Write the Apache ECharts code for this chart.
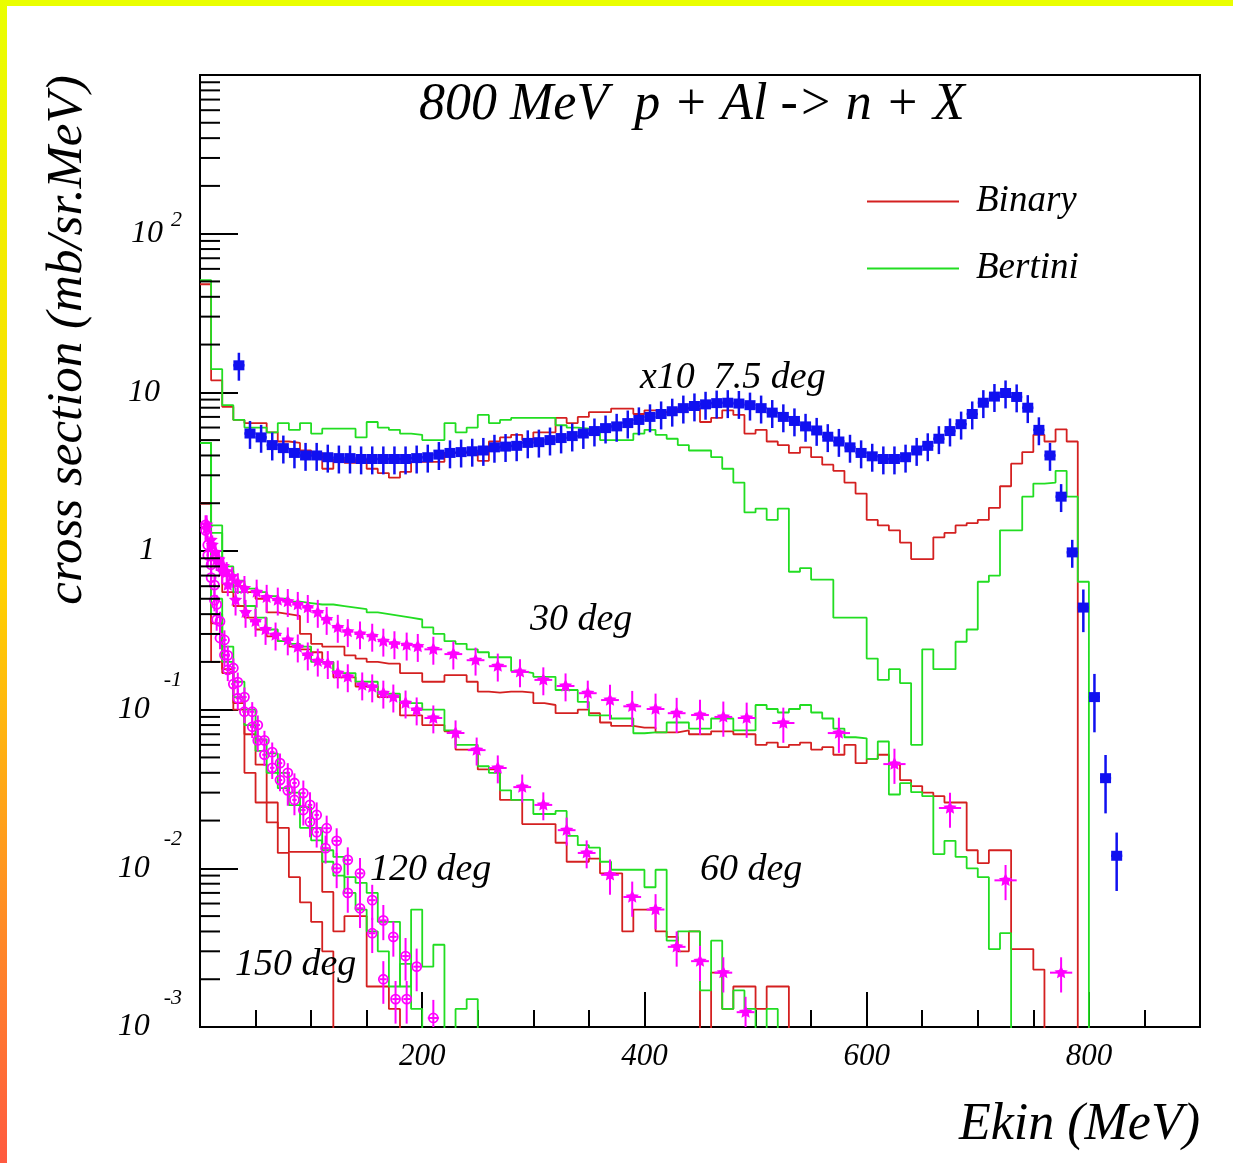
<!DOCTYPE html>
<html>
<head>
<meta charset="utf-8">
<script src="https://cdn.jsdelivr.net/npm/echarts@6/dist/echarts.min.js"></script>
<style>
  html, body { margin: 0; padding: 0; background: #fff; }
  #chart { position: absolute; left: 0; top: 0; width: 1233px; height: 1163px; }
  .edge-top { position: absolute; left: 0; top: 0; width: 1233px; height: 6px; background: #eaff00; }
  .edge-left { position: absolute; left: 0; top: 0; width: 7px; height: 1163px;
    background: linear-gradient(#eaff00, #ffd200 50%, #ff5a40); }
</style>
</head>
<body>
<div id="chart"></div>
<div class="edge-top"></div>
<div class="edge-left"></div>
<script>
// histogram bin width (MeV); every model histogram starts at 0 MeV
const BIN = 10
const FLOOR = 0.0003 // empty bin, below the axis

// Binary / Bertini cascade, 7.5 deg (x10)
const binary75 = [48, 11.9, 8.1, 6.7, 6.4, 6.4, 5.6, 4.9, 4.8, 4.3, 4.15, 3.3, 3.75, 3.6, 3.75, 3.3, 3.1, 2.9, 3.15, 3.65,
  3.65, 3.65, 4.15, 4.15, 4.15, 3.7, 4.9, 5.2, 5.4, 5.0, 5.6, 5.6, 6.9, 6.4, 7.0, 7.5, 7.5, 7.9, 7.9, 7.3,
  7.7, 7.5, 7.5, 7.9, 7.9, 6.5, 6.9, 7.7, 7.2, 5.5, 5.8, 4.9, 4.65, 4.15, 4.5, 3.9, 3.5, 3.2, 2.7, 2.3,
  1.57, 1.45, 1.35, 1.13, 0.89, 0.89, 1.22, 1.3, 1.45, 1.5, 1.57, 1.87, 2.56, 3.55, 4.2, 5.4, 4.9, 5.85, 4.9]
const bertini75 = [51, 14, 8.3, 6.7, 6.0, 6.0, 5.6, 6.4, 5.8, 6.4, 5.5, 5.9, 5.9, 5.9, 5.2, 6.5, 6.0, 5.8, 5.5, 5.4,
  5.0, 5.0, 6.4, 5.6, 6.0, 7.2, 6.4, 6.7, 6.9, 6.9, 6.9, 6.9, 6.2, 6.0, 5.9, 5.8, 5.0, 5.0, 5.0, 5.5,
  5.8, 5.4, 5.1, 4.65, 4.3, 4.3, 3.9, 3.3, 2.7, 1.75, 1.85, 1.57, 1.85, 0.74, 0.78, 0.66, 0.66, 0.38, 0.38, 0.38,
  0.21, 0.154, 0.18, 0.147, 0.06, 0.24, 0.18, 0.18, 0.268, 0.32, 0.64, 0.7, 1.35, 1.35, 2.2, 2.66, 2.7, 3.2, 2.2, 0.64]

// 30 deg
const binary30 = [2.0, 0.9, 0.7, 0.6, 0.55, 0.5, 0.41, 0.4, 0.39, 0.3, 0.26, 0.25, 0.25, 0.22, 0.21, 0.2, 0.195, 0.195, 0.17, 0.17,
  0.15, 0.15, 0.165, 0.165, 0.15, 0.13, 0.128, 0.13, 0.13, 0.128, 0.11, 0.107, 0.095, 0.095, 0.1, 0.095, 0.083, 0.079, 0.079, 0.077,
  0.077, 0.072, 0.072, 0.074, 0.07, 0.07, 0.073, 0.073, 0.07, 0.07, 0.06, 0.062, 0.058, 0.06, 0.062, 0.056, 0.058, 0.052, 0.06, 0.046,
  0.049, 0.052, 0.045, 0.036, 0.033, 0.03, 0.0285, 0.026, 0.026, 0.013, 0.0108, 0.013, 0.013, 0.0031, 0.0031, 0.0023]
const bertini30 = [4.8, 1.45, 0.8, 0.65, 0.58, 0.55, 0.52, 0.5, 0.48, 0.47, 0.46, 0.46, 0.45, 0.44, 0.43, 0.41, 0.4, 0.39, 0.38, 0.37,
  0.33, 0.3, 0.27, 0.26, 0.24, 0.23, 0.214, 0.214, 0.175, 0.17, 0.161, 0.161, 0.133, 0.133, 0.112, 0.092, 0.092, 0.088, 0.088, 0.071,
  0.072, 0.072, 0.083, 0.083, 0.076, 0.076, 0.088, 0.088, 0.074, 0.074, 0.107, 0.101, 0.096, 0.101, 0.107, 0.096, 0.088, 0.076, 0.067, 0.066,
  0.049, 0.063, 0.0292, 0.0344, 0.0302, 0.0285, 0.0123, 0.0149, 0.0118, 0.01, 0.0088, 0.0031, 0.0039]

// 60 deg
const binary60 = [2.0, 0.8, 0.55, 0.45, 0.38, 0.32, 0.29, 0.27, 0.25, 0.24, 0.23, 0.2, 0.16, 0.16, 0.14, 0.14, 0.12, 0.12, 0.092, 0.092,
  0.08, 0.08, 0.073, 0.056, 0.056, 0.042, 0.042, 0.027, 0.027, 0.019, 0.019, 0.019, 0.0145, 0.011, 0.011, 0.0115, 0.0093, 0.0093, 0.004, 0.0055,
  0.0055, 0.004, 0.0037, 0.003, 0.004, 0.0005, 0.0022, 0.0013, 0.0018, 0.0018, 0.0013, 0.0018, 0.0018]
const bertini60 = [4.8, 1.3, 0.75, 0.55, 0.45, 0.38, 0.32, 0.27, 0.26, 0.25, 0.2, 0.2, 0.17, 0.17, 0.15, 0.15, 0.126, 0.126, 0.11, 0.11,
  0.1, 0.1, 0.074, 0.06, 0.06, 0.044, 0.04, 0.031, 0.027, 0.027, 0.022, 0.022, 0.023, 0.016, 0.014, 0.0135, 0.011, 0.0098, 0.0098, 0.0098,
  0.0076, 0.0098, 0.0035, 0.004, 0.004, 0.0017, 0.0035, 0.0013, 0.0017, 0.0013, 0.0005, 0.0013]

// 120 deg
const binary120 = [2.0, 0.35, 0.18, 0.11, 0.07, 0.045, 0.026, 0.018, 0.0127, 0.0127, 0.0127, 0.0071, 0.004, 0.005, 0.005, 0.0018, 0.0018, 0.0013]
const bertini120 = [4.8, 0.5, 0.25, 0.15, 0.1, 0.065, 0.053, 0.04, 0.03, 0.0243, 0.018, 0.013, 0.0118, 0.0088, 0.0081, 0.007, 0.0046, 0.0046, 0.0018, 0.0055,
  0.0024, 0.0033, 0.0005, 0.0013, 0.0015]

// 150 deg
const binary150 = [2.0, 0.2, 0.17, 0.1, 0.04, 0.026, 0.0195, 0.0125, 0.0088, 0.0061, 0.0046, 0.003]
const bertini150 = [4.8, 0.4, 0.2, 0.12, 0.08, 0.055, 0.04, 0.032, 0.025, 0.018, 0.015, 0.011, 0.009, 0.007, 0.0055, 0.004, 0.003, 0.0018, 0.0025, 0.0013]

// measured points, 7.5 deg x10: [E, value, relative error]; half bin 5 MeV
const DATA75_HALF = 5
const data75 = [[35, 14.8, 0.2], [45, 5.5, 0.2], [55, 5.2, 0.2], [65, 4.65, 0.2], [75, 4.45, 0.2], [85, 4.15, 0.2], [95, 4.0, 0.2],
  [105, 4.0, 0.2], [115, 3.9, 0.2], [125, 3.85, 0.2], [135, 3.85, 0.2], [145, 3.8, 0.2], [155, 3.8, 0.2], [165, 3.8, 0.2],
  [175, 3.8, 0.2], [185, 3.8, 0.2], [195, 3.85, 0.2], [205, 3.9, 0.2], [215, 4.05, 0.2], [225, 4.15, 0.2], [235, 4.2, 0.2],
  [245, 4.25, 0.2], [255, 4.3, 0.2], [265, 4.5, 0.2], [275, 4.55, 0.2], [285, 4.6, 0.2], [295, 4.8, 0.2], [305, 4.85, 0.2],
  [315, 5.0, 0.2], [325, 5.15, 0.2], [335, 5.3, 0.2], [345, 5.5, 0.2], [355, 5.7, 0.2], [365, 5.95, 0.2], [375, 6.1, 0.2],
  [385, 6.4, 0.2], [395, 6.7, 0.2], [405, 7.0, 0.2], [415, 7.3, 0.2], [425, 7.6, 0.2], [435, 7.95, 0.2], [445, 8.2, 0.2],
  [455, 8.4, 0.2], [465, 8.55, 0.2], [475, 8.6, 0.2], [485, 8.5, 0.2], [495, 8.3, 0.2], [505, 7.95, 0.2], [515, 7.45, 0.2],
  [525, 7.0, 0.2], [535, 6.6, 0.2], [545, 6.1, 0.2], [555, 5.75, 0.2], [565, 5.25, 0.2], [575, 4.9, 0.2], [585, 4.5, 0.2],
  [595, 4.15, 0.2], [605, 3.95, 0.2], [615, 3.8, 0.2], [625, 3.8, 0.2], [635, 3.9, 0.2], [645, 4.3, 0.2], [655, 4.6, 0.2],
  [665, 5.1, 0.2], [675, 5.7, 0.2], [685, 6.3, 0.2], [695, 7.3, 0.2], [705, 8.6, 0.2], [715, 9.4, 0.2], [725, 9.9, 0.2],
  [735, 9.35, 0.2], [745, 8.0, 0.2], [755, 5.8, 0.2], [765, 4.0, 0.2], [775, 2.2, 0.2], [785, 0.98, 0.2], [795, 0.44, 0.3],
  [805, 0.12, 0.4], [815, 0.037, 0.4], [825, 0.012, 0.4]]

// measured points, other angles: [E, value, half bin width, relative error]
const data30 = [[6, 1.46, 2, 0.15], [10, 1.17, 2, 0.15], [14, 0.98, 2, 0.15], [17, 0.88, 2, 0.15], [21, 0.8, 2, 0.15],
  [24, 0.74, 2, 0.15], [29, 0.69, 2, 0.15], [34, 0.63, 3, 0.15], [40, 0.58, 4, 0.2], [51, 0.55, 5, 0.2], [60, 0.51, 5, 0.2],
  [70, 0.49, 5, 0.2], [79, 0.48, 5, 0.2], [88, 0.46, 5, 0.2], [97, 0.44, 5, 0.2], [106, 0.41, 5, 0.2], [114, 0.37, 5, 0.2],
  [124, 0.33, 5, 0.2], [133, 0.31, 5, 0.2], [144, 0.3, 5, 0.2], [155, 0.29, 5, 0.2], [165, 0.27, 5, 0.2], [175, 0.26, 5, 0.2],
  [186, 0.255, 5, 0.2], [196, 0.25, 5, 0.2], [210, 0.24, 8, 0.2], [228, 0.224, 8, 0.2], [248, 0.205, 8, 0.2], [268, 0.188, 8, 0.2],
  [288, 0.173, 8, 0.2], [309, 0.154, 8, 0.2], [329, 0.141, 8, 0.2], [349, 0.127, 8, 0.2], [369, 0.115, 8, 0.25],
  [389, 0.105, 8, 0.25], [410, 0.101, 8, 0.25], [429, 0.095, 8, 0.25], [450, 0.0925, 8, 0.25], [471, 0.09, 8, 0.25],
  [492, 0.0886, 8, 0.25], [525, 0.0824, 10, 0.25], [575, 0.0712, 10, 0.25], [625, 0.0454, 10, 0.25], [675, 0.024, 10, 0.25],
  [725, 0.0084, 10, 0.25], [775, 0.0022, 10, 0.25]]
const data60 = [[6, 1.39, 2, 0.15], [11, 1.09, 2, 0.15], [15, 0.88, 2, 0.15], [20, 0.74, 2, 0.15], [25, 0.61, 2, 0.15],
  [32, 0.49, 3, 0.2], [41, 0.41, 4, 0.2], [50, 0.36, 5, 0.2], [59, 0.32, 5, 0.2], [68, 0.295, 5, 0.2], [79, 0.275, 5, 0.2],
  [88, 0.248, 5, 0.2], [97, 0.221, 5, 0.2], [106, 0.202, 5, 0.2], [115, 0.195, 5, 0.2], [124, 0.17, 5, 0.2], [133, 0.161, 5, 0.2],
  [146, 0.143, 5, 0.2], [155, 0.139, 5, 0.2], [165, 0.127, 5, 0.2], [174, 0.12, 5, 0.2], [185, 0.11, 5, 0.2], [195, 0.0995, 5, 0.2],
  [210, 0.0886, 8, 0.2], [230, 0.0713, 8, 0.2], [249, 0.0556, 8, 0.2], [268, 0.0429, 8, 0.2], [290, 0.0325, 8, 0.2],
  [309, 0.0251, 8, 0.2], [330, 0.0174, 8, 0.2], [348, 0.0125, 8, 0.2], [369, 0.0091, 8, 0.25], [389, 0.0066, 8, 0.25],
  [410, 0.0055, 8, 0.25], [429, 0.0032, 8, 0.25], [450, 0.0026, 8, 0.25], [471, 0.0022, 8, 0.25], [491, 0.00124, 8, 0.25]]
const data120 = [[5, 1.46, 1, 0.15], [7, 1.09, 1, 0.15], [10, 0.82, 1, 0.15], [13, 0.61, 1, 0.15], [15, 0.46, 1, 0.15],
  [18, 0.36, 1, 0.15], [22, 0.275, 2, 0.15], [25, 0.22, 2, 0.15], [30, 0.183, 2, 0.15], [34, 0.149, 2, 0.15], [40, 0.12, 2, 0.15],
  [47, 0.097, 2, 0.15], [52, 0.08, 2, 0.15], [58, 0.064, 2, 0.15], [65, 0.054, 2, 0.15], [72, 0.046, 2, 0.15], [79, 0.04, 2, 0.15],
  [85, 0.0345, 2, 0.15], [93, 0.0298, 2, 0.2], [99, 0.0251, 2, 0.2], [105, 0.0217, 2, 0.2], [114, 0.0179, 3, 0.2],
  [123, 0.0149, 3, 0.2], [133, 0.0113, 3, 0.2], [144, 0.0093, 3, 0.25], [155, 0.0063, 3, 0.25], [165, 0.0047, 3, 0.25],
  [174, 0.0037, 3, 0.25], [185, 0.0028, 3, 0.3], [195, 0.0024, 3, 0.3], [210, 0.00114, 5, 0.3]]
const data150 = [[5, 1.35, 1, 0.15], [7, 0.94, 1, 0.15], [10, 0.68, 1, 0.15], [13, 0.49, 1, 0.15], [15, 0.37, 1, 0.15],
  [18, 0.283, 1, 0.15], [22, 0.221, 2, 0.15], [25, 0.178, 2, 0.15], [30, 0.145, 2, 0.15], [34, 0.118, 2, 0.15], [40, 0.097, 2, 0.15],
  [47, 0.078, 2, 0.15], [52, 0.064, 2, 0.15], [58, 0.052, 2, 0.15], [65, 0.043, 2, 0.15], [72, 0.036, 2, 0.15], [79, 0.031, 2, 0.2],
  [85, 0.027, 2, 0.2], [93, 0.0233, 2, 0.2], [99, 0.0196, 2, 0.2], [105, 0.0169, 2, 0.2], [113, 0.0134, 3, 0.2], [123, 0.01, 3, 0.25],
  [133, 0.007, 3, 0.25], [144, 0.0056, 3, 0.25], [155, 0.0039, 3, 0.25], [165, 0.002, 3, 0.3], [176, 0.0015, 3, 0.3],
  [186, 0.0015, 3, 0.3]]

// log axis minor ticks (2..9 per decade)
const yMinorTicks = [0.002, 0.003, 0.004, 0.005, 0.006, 0.007, 0.008, 0.009,
  0.02, 0.03, 0.04, 0.05, 0.06, 0.07, 0.08, 0.09,
  0.2, 0.3, 0.4, 0.5, 0.6, 0.7, 0.8, 0.9,
  2, 3, 4, 5, 6, 7, 8, 9,
  20, 30, 40, 50, 60, 70, 80, 90,
  200, 300, 400, 500, 600, 700, 800, 900]

const annotations = [
  { text: 'x10  7.5 deg', x: 640, y: 378 },
  { text: '30 deg', x: 530, y: 620 },
  { text: '60 deg', x: 700, y: 870 },
  { text: '120 deg', x: 370, y: 870 },
  { text: '150 deg', x: 235, y: 965 },
]

const FONT = '"Liberation Serif", "DejaVu Serif", serif'
const RED = '#d42020'
const GREEN = '#22dd22'
const BLUE = '#1010f0'
const MAGENTA = '#ff00ff'

function histData(vals) {
  const pts = vals.map((v, i) => [i * BIN, v])
  const end = vals.length * BIN
  pts.push([end, vals[vals.length - 1]], [end, FLOOR])
  return pts
}

function histSeries(name, color, vals) {
  return {
    name,
    type: 'line',
    step: 'end',
    data: histData(vals),
    showSymbol: false,
    symbol: 'none',
    color,
    lineStyle: { color, width: 1.8 },
    clip: true,
    silent: true,
    z: 2,
  }
}

function marker(kind, cx, cy, color) {
  if (kind === 'square') {
    return { type: 'rect', shape: { x: cx - 5.5, y: cy - 5, width: 11, height: 10 }, style: { fill: color } }
  }
  if (kind === 'star') {
    const pts = []
    for (let k = 0; k < 10; k++) {
      const r = k % 2 ? 3.4 : 7
      const a = -Math.PI / 2 + (k * Math.PI) / 5
      pts.push([cx + r * Math.cos(a), cy + r * Math.sin(a)])
    }
    return { type: 'polygon', shape: { points: pts }, style: { fill: color } }
  }
  return { type: 'circle', shape: { cx, cy, r: 4.5 }, style: { fill: 'transparent', stroke: color, lineWidth: 1.8 } }
}

function pointSeries(rows, color, kind, lw) {
  return {
    type: 'custom',
    data: rows,
    encode: { x: 0, y: 1 },
    clip: true,
    silent: true,
    z: 3,
    renderItem(params, api) {
      const e = api.value(0)
      const v = api.value(1)
      const de = api.value(2)
      const r = api.value(3)
      const c = api.coord([e, v])
      const hi = api.coord([e, v * (1 + r)])
      const lo = api.coord([e, v * (1 - r)])
      const l = api.coord([e - de, v])
      const rt = api.coord([e + de, v])
      return {
        type: 'group',
        children: [
          { type: 'line', shape: { x1: c[0], y1: hi[1], x2: c[0], y2: lo[1] }, style: { stroke: color, lineWidth: lw } },
          { type: 'line', shape: { x1: l[0], y1: c[1], x2: rt[0], y2: c[1] }, style: { stroke: color, lineWidth: lw } },
          marker(kind, c[0], c[1], color),
        ],
      }
    },
  }
}

function yLabel(v) {
  const p = Math.round(Math.log10(v))
  if (p === 3) return ''
  if (p === 0) return '{one|1}'
  if (p === 1) return '{ten|10}'
  if (p === 2) return '{b|10}{s|2}'
  return '{b|10}{n|' + p + '}'
}

const chart = echarts.init(document.getElementById('chart'))

const series = [
  histSeries('Binary', RED, binary75),
  histSeries('Binary', RED, binary30),
  histSeries('Binary', RED, binary60),
  histSeries('Binary', RED, binary120),
  histSeries('Binary', RED, binary150),
  histSeries('Bertini', GREEN, bertini75),
  histSeries('Bertini', GREEN, bertini30),
  histSeries('Bertini', GREEN, bertini60),
  histSeries('Bertini', GREEN, bertini120),
  histSeries('Bertini', GREEN, bertini150),
  pointSeries(data75.map((d) => [d[0], d[1], DATA75_HALF, d[2]]), BLUE, 'square', 2.5),
  pointSeries(data30, MAGENTA, 'star', 2),
  pointSeries(data60, MAGENTA, 'star', 2),
  pointSeries(data120, MAGENTA, 'circle', 2),
  pointSeries(data150, MAGENTA, 'circle', 2),
  {
    type: 'custom',
    data: yMinorTicks.map((v) => [0, v]),
    encode: { x: 0, y: 1 },
    silent: true,
    z: 5,
    renderItem(params, api) {
      const p = api.coord([0, api.value(1)])
      return { type: 'line', shape: { x1: p[0], y1: p[1], x2: p[0] + 20, y2: p[1] }, style: { stroke: '#000', lineWidth: 2 } }
    },
  },
]

const textStyle = { fontFamily: FONT, fontStyle: 'italic', color: '#000' }

chart.setOption({
  animation: false,
  backgroundColor: '#fff',
  grid: { left: 200, top: 75, width: 1000, height: 952, show: true, borderColor: '#000', borderWidth: 2, backgroundColor: 'transparent' },
  legend: {
    data: ['Binary', 'Bertini'],
    orient: 'vertical',
    left: 862,
    top: 176,
    icon: 'rect',
    itemWidth: 92,
    itemHeight: 2,
    itemGap: 26,
    selectedMode: false,
    textStyle: { ...textStyle, fontSize: 37, lineHeight: 41, padding: [0, 0, 0, 12] },
  },
  xAxis: [
    {
      type: 'value',
      min: 0,
      max: 900,
      interval: 200,
      axisLine: { lineStyle: { color: '#000', width: 2 } },
      axisTick: { inside: true, length: 35, lineStyle: { color: '#000', width: 2 } },
      axisLabel: { ...textStyle, fontSize: 31, margin: 14, formatter: (v) => (v > 0 && v < 900 ? String(v) : '') },
      splitLine: { show: false },
    },
    {
      type: 'value',
      min: 0,
      max: 900,
      interval: 50,
      position: 'bottom',
      axisLine: { show: false },
      axisTick: { inside: true, length: 17, lineStyle: { color: '#000', width: 2 } },
      axisLabel: { show: false },
      splitLine: { show: false },
    },
  ],
  yAxis: {
    type: 'log',
    logBase: 10,
    min: 0.001,
    max: 1000,
    axisLine: { show: true, lineStyle: { color: '#000', width: 2 } },
    axisTick: { inside: true, length: 38, lineStyle: { color: '#000', width: 2 } },
    axisLabel: {
      margin: 18,
      formatter: yLabel,
      rich: {
        b: { ...textStyle, fontSize: 32 },
        ten: { ...textStyle, fontSize: 32, padding: [0, 22, 0, 0] },
        one: { ...textStyle, fontSize: 32, padding: [0, 27, 0, 0] },
        s: { ...textStyle, fontSize: 22, padding: [0, 0, 26, 8] },
        n: { ...textStyle, fontSize: 22, padding: [0, 0, 58, 14] },
      },
    },
    splitLine: { show: false },
  },
  graphic: [
    { type: 'text', x: 419, y: 105, style: { text: '800 MeV  p + Al -> n + X', font: 'italic 52px ' + FONT, fill: '#000', verticalAlign: 'middle' } },
    { type: 'text', x: 68, y: 340, rotation: Math.PI / 2, style: { text: 'cross section (mb/sr.MeV)', font: 'italic 51px ' + FONT, fill: '#000', align: 'center', verticalAlign: 'middle' } },
    { type: 'text', x: 1200, y: 1125, style: { text: 'Ekin (MeV)', font: 'italic 52px ' + FONT, fill: '#000', align: 'right', verticalAlign: 'middle' } },
    ...annotations.map((a) => ({
      type: 'text', x: a.x, y: a.y, z: 10,
      style: { text: a.text, font: 'italic 38px ' + FONT, fill: '#000', verticalAlign: 'middle' },
    })),
  ],
  series,
})
</script>
</body>
</html>
